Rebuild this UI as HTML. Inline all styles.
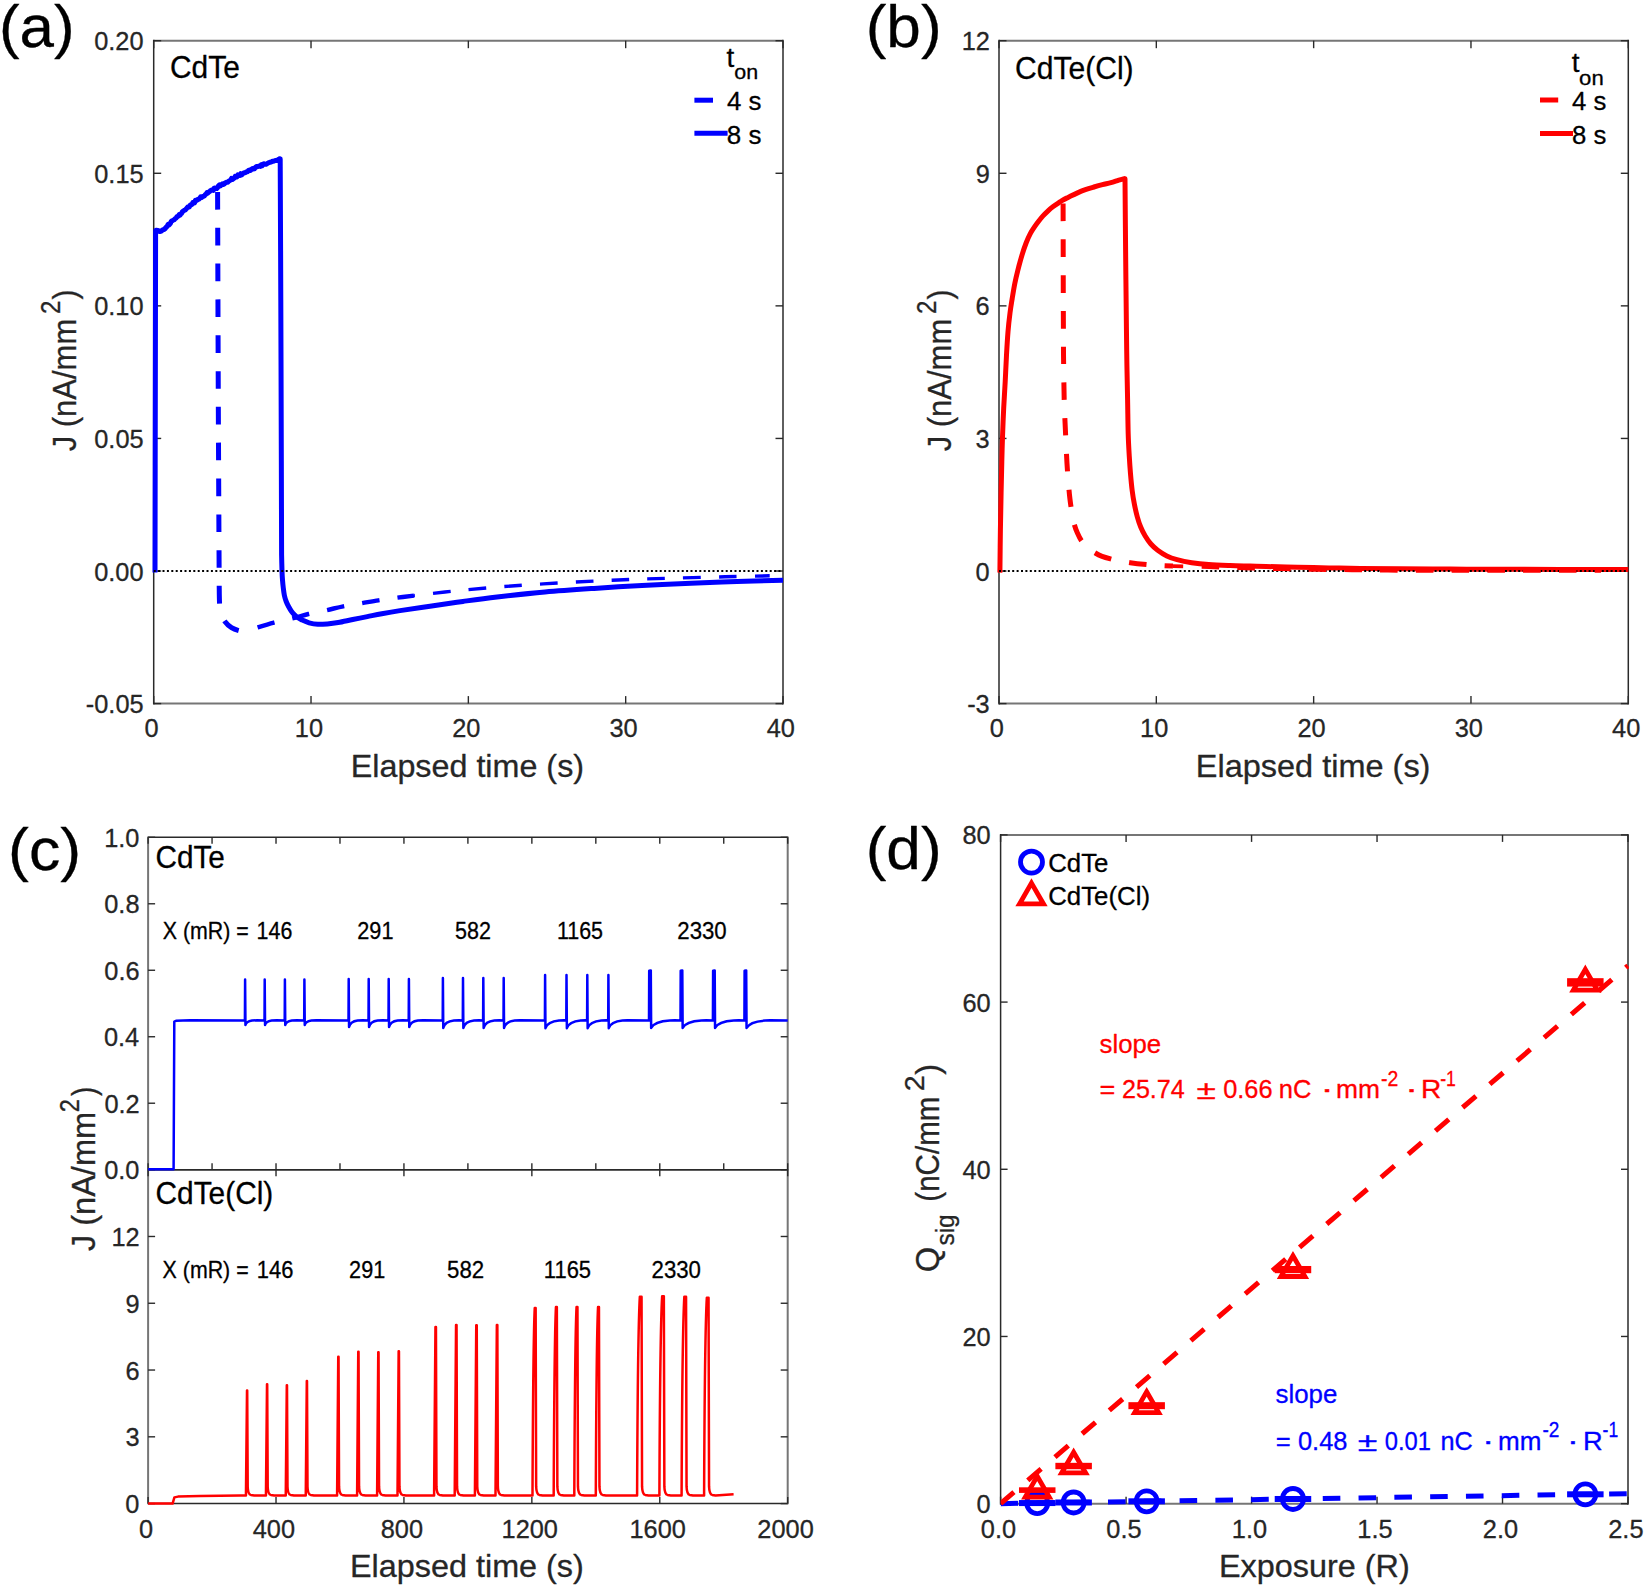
<!DOCTYPE html>
<html lang="en"><head><meta charset="utf-8"><title>Figure: X-ray response of CdTe and CdTe(Cl)</title>
<style>html,body{margin:0;padding:0;background:#fff}svg{display:block}text{font-family:'Liberation Sans', Arial, Helvetica, sans-serif;stroke-width:0.3px;stroke-linejoin:round}</style>
</head><body>
<svg width="1650" height="1588" viewBox="0 0 1650 1588">
<rect width="1650" height="1588" fill="#fff"/>
<g id="panel-a">
<line x1="153.7" y1="40.7" x2="783" y2="40.7" stroke="#767676" stroke-width="2"/>
<line x1="153.7" y1="703.6" x2="783" y2="703.6" stroke="#767676" stroke-width="2"/>
<line x1="153.7" y1="39.7" x2="153.7" y2="704.6" stroke="#2a2a2a" stroke-width="1.5"/>
<line x1="783" y1="39.7" x2="783" y2="704.6" stroke="#2a2a2a" stroke-width="1.5"/>
<line x1="311.02" y1="703.6" x2="311.02" y2="696.1" stroke="#2a2a2a" stroke-width="1.4"/>
<line x1="311.02" y1="40.7" x2="311.02" y2="48.2" stroke="#2a2a2a" stroke-width="1.4"/>
<line x1="468.35" y1="703.6" x2="468.35" y2="696.1" stroke="#2a2a2a" stroke-width="1.4"/>
<line x1="468.35" y1="40.7" x2="468.35" y2="48.2" stroke="#2a2a2a" stroke-width="1.4"/>
<line x1="625.67" y1="703.6" x2="625.67" y2="696.1" stroke="#2a2a2a" stroke-width="1.4"/>
<line x1="625.67" y1="40.7" x2="625.67" y2="48.2" stroke="#2a2a2a" stroke-width="1.4"/>
<line x1="153.7" y1="571.02" x2="161.2" y2="571.02" stroke="#2a2a2a" stroke-width="1.4"/>
<line x1="783" y1="571.02" x2="775.5" y2="571.02" stroke="#2a2a2a" stroke-width="1.4"/>
<line x1="153.7" y1="438.44" x2="161.2" y2="438.44" stroke="#2a2a2a" stroke-width="1.4"/>
<line x1="783" y1="438.44" x2="775.5" y2="438.44" stroke="#2a2a2a" stroke-width="1.4"/>
<line x1="153.7" y1="305.86" x2="161.2" y2="305.86" stroke="#2a2a2a" stroke-width="1.4"/>
<line x1="783" y1="305.86" x2="775.5" y2="305.86" stroke="#2a2a2a" stroke-width="1.4"/>
<line x1="153.7" y1="173.28" x2="161.2" y2="173.28" stroke="#2a2a2a" stroke-width="1.4"/>
<line x1="783" y1="173.28" x2="775.5" y2="173.28" stroke="#2a2a2a" stroke-width="1.4"/>
<line x1="153.7" y1="703.6" x2="153.7" y2="696.1" stroke="#2a2a2a" stroke-width="1.4"/>
<line x1="153.7" y1="40.7" x2="153.7" y2="48.2" stroke="#2a2a2a" stroke-width="1.4"/>
<line x1="783" y1="703.6" x2="783" y2="696.1" stroke="#2a2a2a" stroke-width="1.4"/>
<line x1="783" y1="40.7" x2="783" y2="48.2" stroke="#2a2a2a" stroke-width="1.4"/>
<line x1="153.7" y1="703.6" x2="161.2" y2="703.6" stroke="#2a2a2a" stroke-width="1.4"/>
<line x1="783" y1="703.6" x2="775.5" y2="703.6" stroke="#2a2a2a" stroke-width="1.4"/>
<line x1="153.7" y1="40.7" x2="161.2" y2="40.7" stroke="#2a2a2a" stroke-width="1.4"/>
<line x1="783" y1="40.7" x2="775.5" y2="40.7" stroke="#2a2a2a" stroke-width="1.4"/>
<path d="M155 572.6 C155.05 543.83 155.2 456.93 155.3 400 C155.4 343.07 155.55 259.17 155.6 231 L155.9 230.2 L156.55 230.24 L157.6 230.4 L158.56 230.66 L159.68 231.57 L160.8 231.28 L161.56 230.92 L162.28 230.04 L163.07 229.72 L164 229.61 L164.59 228.73 L165.19 228.54 L165.83 227.54 L166.51 227 L167.27 226.19 L168.13 224.38 L169.1 224.87 L169.73 224.09 L170.41 223.45 L171.13 221.56 L171.89 220.81 L172.68 220.54 L173.49 220 L174.32 219.64 L175.16 218.66 L176.01 218.18 L176.85 216.76 L177.68 216.51 L178.5 215.82 L179.25 214.56 L180.01 215.19 L180.78 213.86 L181.55 213.53 L182.33 211.84 L183.1 211.09 L183.88 210.63 L184.66 210.08 L185.44 209.82 L186.21 208.95 L186.98 207.91 L187.75 207 L188.5 206.61 L189.38 206.85 L190.25 205.04 L191.12 204.93 L191.97 204.36 L192.83 202.64 L193.68 202.83 L194.54 202.88 L195.39 200.41 L196.26 200.7 L197.12 200.18 L198 199.15 L198.89 199.23 L199.78 198.28 L200.68 196.87 L201.58 197.49 L202.48 196.77 L203.39 196.3 L204.3 195.95 L205.2 194.75 L206.11 194.02 L207.01 192.65 L207.9 193.14 L208.79 191.91 L209.68 191.47 L210.57 190.51 L211.45 190.17 L212.34 189.92 L213.22 190.44 L214.1 188.13 L214.98 187.96 L215.86 188.41 L216.73 188.59 L217.6 187.62 L218.55 185.7 L219.49 184.81 L220.42 185.84 L221.35 184.69 L222.28 183.93 L223.21 184.53 L224.15 184.05 L225.09 182.98 L226.04 182.48 L227 182.04 L227.89 182.18 L228.79 181.14 L229.7 180.59 L230.61 180.1 L231.53 178.44 L232.45 179.51 L233.38 178.83 L234.29 178.11 L235.2 176.25 L236.11 176.52 L237 176.86 L237.97 174.9 L238.93 175.31 L239.87 175.49 L240.82 173.74 L241.76 174.88 L242.7 173.84 L243.64 172.99 L244.58 172.79 L245.54 172.52 L246.5 171.77 L247.48 171.87 L248.46 170.41 L249.45 170.08 L250.45 170.42 L251.44 169.4 L252.44 168.44 L253.44 169 L254.43 168.85 L255.42 167.37 L256.4 166.44 L257.37 166.73 L258.34 166.34 L259.3 165.88 L260.25 166.46 L261.21 164.77 L262.16 165.68 L263.11 163.94 L264.07 163.86 L265.03 164.3 L266 164.22 L267 163.71 L268.05 163.06 L269.12 162.57 L270.2 162.2 L271.28 162.07 L272.32 161.3 L273.31 161.2 L274.23 161.05 L275.07 160.45 L275.8 160.62 L277.22 160.03 L278.21 160.49 L278.9 159.34 L279.4 158.76 L280.2 159 C280.3 182.5 280.62 251.5 280.8 300 C280.98 348.5 281.17 407.5 281.3 450 C281.43 492.5 281.55 537.5 281.6 555 L281.6 555 C281.67 557.67 281.85 566.83 282 571 C282.15 575.17 282.28 577.17 282.5 580 C282.72 582.83 282.98 585.42 283.3 588 C283.62 590.58 283.92 593.25 284.4 595.5 C284.88 597.75 285.48 599.62 286.2 601.5 C286.92 603.38 287.83 605.18 288.7 606.8 C289.57 608.42 290.43 609.87 291.4 611.2 C292.37 612.53 293.4 613.72 294.5 614.8 C295.6 615.88 296.78 616.85 298 617.7 C299.22 618.55 299.95 619.05 301.8 619.9 C303.65 620.75 306.43 622.07 309.1 622.8 C311.77 623.53 314.77 624.12 317.8 624.3 C320.83 624.48 323.9 624.2 327.3 623.9 C330.7 623.6 333.97 623.23 338.2 622.5 C342.43 621.77 347.85 620.48 352.7 619.5 C357.55 618.52 362.45 617.57 367.3 616.6 C372.15 615.63 376.35 614.7 381.8 613.7 C387.25 612.7 391.97 611.85 400 610.6 C408.03 609.35 419.5 607.73 430 606.2 C440.5 604.67 451.83 602.93 463 601.4 C474.17 599.87 483.33 598.57 497 597 C510.67 595.43 528.83 593.43 545 592 C561.17 590.57 577.83 589.48 594 588.4 C610.17 587.32 625.83 586.37 642 585.5 C658.17 584.63 675.17 583.87 691 583.2 C706.83 582.53 721.67 582 737 581.5 C752.33 581 775.33 580.42 783 580.2" fill="none" stroke="#0000ff" stroke-width="5" stroke-linejoin="round"/>
<line x1="153.7" y1="571.02" x2="783" y2="571.02" stroke="#000" stroke-width="1.8" stroke-dasharray="2 2.4"/>
<path d="M217.6 192.1 C217.72 226.75 218.03 334.52 218.3 400 C218.57 465.48 219.05 554.17 219.2 585 L219.2 585 C219.27 588.17 219.27 599.25 219.6 604 C219.93 608.75 220.32 610.58 221.2 613.5 C222.08 616.42 223.18 619.13 224.9 621.5 C226.62 623.87 229.15 626.17 231.5 627.7 C233.85 629.23 236.83 630.12 239 630.7 C241.17 631.28 242.67 631.32 244.5 631.2 C246.33 631.08 249.08 630.2 250 630" fill="none" stroke="#0000ff" stroke-width="5" stroke-dasharray="17.6 18.2" stroke-linejoin="round"/>
<path d="M250 630 C251.15 629.6 252.92 628.83 256.9 627.6 C260.88 626.37 267.98 624.15 273.9 622.6 C279.82 621.05 286.65 619.73 292.4 618.3 C298.15 616.87 302.72 615.35 308.4 614 C314.08 612.65 320.68 611.48 326.5 610.2 C332.32 608.92 337.6 607.43 343.3 606.3 C349 605.17 354.83 604.4 360.7 603.4 C366.57 602.4 372.55 601.23 378.5 600.3 C384.45 599.37 390.48 598.58 396.4 597.8 C402.32 597.02 411.07 595.97 414 595.6" fill="none" stroke="#0000ff" stroke-width="4.4" stroke-dasharray="17.6 18.2" stroke-linejoin="round" stroke-dashoffset="27.73"/>
<path d="M414 595.6 C421.67 594.73 443.75 592 460 590.4 C476.25 588.8 494 587.3 511.5 586 C529 584.7 547.25 583.6 565 582.6 C582.75 581.6 600.5 580.73 618 580 C635.5 579.27 652.17 578.73 670 578.2 C687.83 577.67 708.38 577.2 725 576.8 C741.62 576.4 762.25 575.97 769.7 575.8" fill="none" stroke="#0000ff" stroke-width="3.4" stroke-dasharray="17.6 18.2" stroke-linejoin="round" stroke-dashoffset="16.58"/>
<text x="144.54" y="736.6" font-size="26.3" fill="#262626" stroke="#262626" textLength="14.12" lengthAdjust="spacingAndGlyphs">0</text>
<text x="294.81" y="736.6" font-size="26.3" fill="#262626" stroke="#262626" textLength="28.23" lengthAdjust="spacingAndGlyphs">10</text>
<text x="452.13" y="736.6" font-size="26.3" fill="#262626" stroke="#262626" textLength="28.23" lengthAdjust="spacingAndGlyphs">20</text>
<text x="609.46" y="736.6" font-size="26.3" fill="#262626" stroke="#262626" textLength="28.23" lengthAdjust="spacingAndGlyphs">30</text>
<text x="766.78" y="736.6" font-size="26.3" fill="#262626" stroke="#262626" textLength="28.23" lengthAdjust="spacingAndGlyphs">40</text>
<text x="85.81" y="713.1" font-size="26.3" fill="#262626" stroke="#262626" textLength="57.85" lengthAdjust="spacingAndGlyphs">-0.05</text>
<text x="94.19" y="580.52" font-size="26.3" fill="#262626" stroke="#262626" textLength="49.4" lengthAdjust="spacingAndGlyphs">0.00</text>
<text x="94.25" y="447.94" font-size="26.3" fill="#262626" stroke="#262626" textLength="49.4" lengthAdjust="spacingAndGlyphs">0.05</text>
<text x="94.19" y="315.36" font-size="26.3" fill="#262626" stroke="#262626" textLength="49.4" lengthAdjust="spacingAndGlyphs">0.10</text>
<text x="94.25" y="182.78" font-size="26.3" fill="#262626" stroke="#262626" textLength="49.4" lengthAdjust="spacingAndGlyphs">0.15</text>
<text x="94.19" y="50.2" font-size="26.3" fill="#262626" stroke="#262626" textLength="49.4" lengthAdjust="spacingAndGlyphs">0.20</text>
<text x="350.72" y="777.1" font-size="32" fill="#262626" stroke="#262626" textLength="233.31" lengthAdjust="spacingAndGlyphs">Elapsed time (s)</text>
<text transform="translate(75.6 450.9) rotate(-90)" x="-0.46" y="0" font-size="33.5" fill="#262626" stroke="#262626" textLength="132.59" lengthAdjust="spacingAndGlyphs">J (nA/mm</text>
<text transform="translate(59.7 312.8) rotate(-90)" x="-1.2" y="0" font-size="27.4" fill="#262626" stroke="#262626" textLength="13.37" lengthAdjust="spacingAndGlyphs">2</text>
<text transform="translate(75.6 299.4) rotate(-90)" x="-0.15" y="0" font-size="33.5" fill="#262626" stroke="#262626" textLength="9.96" lengthAdjust="spacingAndGlyphs">)</text>
<text x="-1.01" y="46.7" font-size="60" fill="#000" stroke="#000" textLength="75.6" lengthAdjust="spacingAndGlyphs">(a)</text>
<text x="170" y="78.3" font-size="32" fill="#000" stroke="#000" textLength="69.83" lengthAdjust="spacingAndGlyphs">CdTe</text>
<text x="726.58" y="66.7" font-size="27" fill="#000" stroke="#000" textLength="7.77" lengthAdjust="spacingAndGlyphs">t</text>
<text x="734.24" y="78.6" font-size="20.5" fill="#000" stroke="#000" textLength="23.85" lengthAdjust="spacingAndGlyphs">on</text>
<line x1="694.4" y1="100.2" x2="713" y2="100.2" stroke="#0000ff" stroke-width="5"/>
<text x="726.92" y="110" font-size="26" fill="#000" stroke="#000" textLength="34.46" lengthAdjust="spacingAndGlyphs">4 s</text>
<line x1="694.4" y1="133.3" x2="727.6" y2="133.3" stroke="#0000ff" stroke-width="5"/>
<text x="726.8" y="143.5" font-size="26" fill="#000" stroke="#000" textLength="34.58" lengthAdjust="spacingAndGlyphs">8 s</text>
</g>
<g id="panel-b">
<line x1="999" y1="40.7" x2="1628.3" y2="40.7" stroke="#767676" stroke-width="2"/>
<line x1="999" y1="703.6" x2="1628.3" y2="703.6" stroke="#767676" stroke-width="2"/>
<line x1="999" y1="39.7" x2="999" y2="704.6" stroke="#2a2a2a" stroke-width="1.5"/>
<line x1="1628.3" y1="39.7" x2="1628.3" y2="704.6" stroke="#2a2a2a" stroke-width="1.5"/>
<line x1="999" y1="703.6" x2="999" y2="696.1" stroke="#2a2a2a" stroke-width="1.4"/>
<line x1="999" y1="40.7" x2="999" y2="48.2" stroke="#2a2a2a" stroke-width="1.4"/>
<line x1="1156.33" y1="703.6" x2="1156.33" y2="696.1" stroke="#2a2a2a" stroke-width="1.4"/>
<line x1="1156.33" y1="40.7" x2="1156.33" y2="48.2" stroke="#2a2a2a" stroke-width="1.4"/>
<line x1="1313.65" y1="703.6" x2="1313.65" y2="696.1" stroke="#2a2a2a" stroke-width="1.4"/>
<line x1="1313.65" y1="40.7" x2="1313.65" y2="48.2" stroke="#2a2a2a" stroke-width="1.4"/>
<line x1="1470.97" y1="703.6" x2="1470.97" y2="696.1" stroke="#2a2a2a" stroke-width="1.4"/>
<line x1="1470.97" y1="40.7" x2="1470.97" y2="48.2" stroke="#2a2a2a" stroke-width="1.4"/>
<line x1="1628.3" y1="703.6" x2="1628.3" y2="696.1" stroke="#2a2a2a" stroke-width="1.4"/>
<line x1="1628.3" y1="40.7" x2="1628.3" y2="48.2" stroke="#2a2a2a" stroke-width="1.4"/>
<line x1="999" y1="703.6" x2="1006.5" y2="703.6" stroke="#2a2a2a" stroke-width="1.4"/>
<line x1="1628.3" y1="703.6" x2="1620.8" y2="703.6" stroke="#2a2a2a" stroke-width="1.4"/>
<line x1="999" y1="571.02" x2="1006.5" y2="571.02" stroke="#2a2a2a" stroke-width="1.4"/>
<line x1="1628.3" y1="571.02" x2="1620.8" y2="571.02" stroke="#2a2a2a" stroke-width="1.4"/>
<line x1="999" y1="438.44" x2="1006.5" y2="438.44" stroke="#2a2a2a" stroke-width="1.4"/>
<line x1="1628.3" y1="438.44" x2="1620.8" y2="438.44" stroke="#2a2a2a" stroke-width="1.4"/>
<line x1="999" y1="305.86" x2="1006.5" y2="305.86" stroke="#2a2a2a" stroke-width="1.4"/>
<line x1="1628.3" y1="305.86" x2="1620.8" y2="305.86" stroke="#2a2a2a" stroke-width="1.4"/>
<line x1="999" y1="173.28" x2="1006.5" y2="173.28" stroke="#2a2a2a" stroke-width="1.4"/>
<line x1="1628.3" y1="173.28" x2="1620.8" y2="173.28" stroke="#2a2a2a" stroke-width="1.4"/>
<line x1="999" y1="40.7" x2="1006.5" y2="40.7" stroke="#2a2a2a" stroke-width="1.4"/>
<line x1="1628.3" y1="40.7" x2="1620.8" y2="40.7" stroke="#2a2a2a" stroke-width="1.4"/>
<path d="M999.9 572.6 C999.98 565.5 1000.2 543.37 1000.4 530 C1000.6 516.63 1000.87 503.73 1001.1 492.4 C1001.33 481.07 1001.57 471.23 1001.8 462 C1002.03 452.77 1002.18 446 1002.5 437 C1002.82 428 1003.25 417.23 1003.7 408 C1004.15 398.77 1004.73 390.43 1005.2 381.6 C1005.67 372.77 1006.03 363.32 1006.5 355 C1006.97 346.68 1007.42 338.7 1008 331.7 C1008.58 324.7 1009.3 318.53 1010 313 C1010.7 307.47 1011.4 303.42 1012.2 298.5 C1013 293.58 1013.88 288.12 1014.8 283.5 C1015.72 278.88 1016.53 275.43 1017.7 270.8 C1018.87 266.17 1020.4 260.33 1021.8 255.7 C1023.2 251.07 1024.68 246.67 1026.1 243 C1027.52 239.33 1028.9 236.38 1030.3 233.7 C1031.7 231.02 1033.08 229.02 1034.5 226.9 C1035.92 224.78 1037.38 222.83 1038.8 221 C1040.22 219.17 1041.45 217.6 1043 215.9 C1044.55 214.2 1046.4 212.37 1048.1 210.8 C1049.8 209.23 1051.22 207.98 1053.2 206.5 C1055.18 205.02 1058.3 203.03 1060 201.9 C1061.7 200.77 1061.98 200.48 1063.4 199.7 C1064.82 198.92 1066.23 198.3 1068.5 197.2 C1070.77 196.1 1074.18 194.35 1077 193.1 C1079.82 191.85 1082.58 190.72 1085.4 189.7 C1088.22 188.68 1091.07 187.85 1093.9 187 C1096.73 186.15 1099.57 185.33 1102.4 184.6 C1105.23 183.87 1108.17 183.35 1110.9 182.6 C1113.63 181.85 1116.53 180.77 1118.8 180.1 C1121.07 179.43 1123.55 178.85 1124.5 178.6 L1125 178.7 C1125.1 190.58 1125.37 225.42 1125.6 250 C1125.83 274.58 1126.27 313.5 1126.4 326.2 L1126.4 326.2 C1126.48 332.67 1126.7 352.7 1126.9 365 C1127.1 377.3 1127.38 388.5 1127.6 400 C1127.82 411.5 1127.92 424.55 1128.2 434 C1128.48 443.45 1128.92 450.08 1129.3 456.7 C1129.68 463.32 1130.02 468.03 1130.5 473.7 C1130.98 479.37 1131.55 485.6 1132.2 490.7 C1132.85 495.8 1133.55 499.95 1134.4 504.3 C1135.25 508.65 1136.25 513.02 1137.3 516.8 C1138.35 520.58 1139.38 523.8 1140.7 527 C1142.02 530.2 1143.5 533.17 1145.2 536 C1146.9 538.83 1148.82 541.63 1150.9 544 C1152.98 546.37 1155.05 548.22 1157.7 550.2 C1160.35 552.18 1163.58 554.33 1166.8 555.9 C1170.02 557.47 1172.85 558.47 1177 559.6 C1181.15 560.73 1186.42 561.87 1191.7 562.7 C1196.98 563.53 1202.32 564.12 1208.7 564.6 C1215.08 565.08 1223.12 565.35 1230 565.6 C1236.88 565.85 1244 565.95 1250 566.1 C1256 566.25 1258.07 566.3 1266 566.5 C1273.93 566.7 1287.1 567.07 1297.6 567.3 C1308.1 567.53 1318.5 567.72 1329 567.9 C1339.5 568.08 1348.77 568.25 1360.6 568.4 C1372.43 568.55 1385.1 568.68 1400 568.8 C1414.9 568.92 1433.33 569.02 1450 569.1 C1466.67 569.18 1481.67 569.25 1500 569.3 C1518.33 569.35 1538.62 569.37 1560 569.4 C1581.38 569.43 1616.92 569.48 1628.3 569.5" fill="none" stroke="#ff0000" stroke-width="5" stroke-linejoin="round"/>
<line x1="999" y1="571.02" x2="1628.3" y2="571.02" stroke="#000" stroke-width="1.8" stroke-dasharray="2 2.4"/>
<path d="M1063.1 203.6 C1063.13 219.67 1063.23 274.95 1063.3 300 C1063.37 325.05 1063.47 344.92 1063.5 353.9 L1063.5 353.9 C1063.62 361.58 1063.88 387.32 1064.2 400 C1064.52 412.68 1064.93 419.42 1065.4 430 C1065.87 440.58 1066.47 454.33 1067 463.5 C1067.53 472.67 1068.12 479.15 1068.6 485 C1069.08 490.85 1069.37 494.1 1069.9 498.6 C1070.43 503.1 1071.08 507.77 1071.8 512 C1072.52 516.23 1073.28 520.53 1074.2 524 C1075.12 527.47 1076.08 530 1077.3 532.8 C1078.52 535.6 1079.8 538.33 1081.5 540.8 C1083.2 543.27 1085.2 545.57 1087.5 547.6 C1089.8 549.63 1092.87 551.55 1095.3 553 C1097.73 554.45 1099.57 555.32 1102.1 556.3 C1104.63 557.28 1107.68 558.13 1110.5 558.9 C1113.32 559.67 1116 560.3 1119 560.9 C1122 561.5 1125.45 562.03 1128.5 562.5 C1131.55 562.97 1132.88 563.25 1137.3 563.7 C1141.72 564.15 1149.05 564.8 1155 565.2 C1160.95 565.6 1170 565.95 1173 566.1" fill="none" stroke="#ff0000" stroke-width="5" stroke-dasharray="17.6 18.14" stroke-linejoin="round"/>
<path d="M1173 566.1 C1179 566.28 1197 566.82 1209 567.2 C1221 567.58 1233 568.07 1245 568.4 C1257 568.73 1269.17 568.95 1281 569.2 C1292.83 569.45 1304.17 569.72 1316 569.9 C1327.83 570.08 1340 570.17 1352 570.3 C1364 570.43 1371.67 570.62 1388 570.7 C1404.33 570.78 1428 570.77 1450 570.8 C1472 570.83 1494.83 570.88 1520 570.9 C1545.17 570.92 1587.5 570.9 1601 570.9" fill="none" stroke="#ff0000" stroke-width="3.8" stroke-dasharray="17.6 18.14" stroke-dashoffset="7.17" stroke-linejoin="round"/>
<text x="989.84" y="736.6" font-size="26.3" fill="#262626" stroke="#262626" textLength="14.12" lengthAdjust="spacingAndGlyphs">0</text>
<text x="1140.11" y="736.6" font-size="26.3" fill="#262626" stroke="#262626" textLength="28.23" lengthAdjust="spacingAndGlyphs">10</text>
<text x="1297.43" y="736.6" font-size="26.3" fill="#262626" stroke="#262626" textLength="28.23" lengthAdjust="spacingAndGlyphs">20</text>
<text x="1454.76" y="736.6" font-size="26.3" fill="#262626" stroke="#262626" textLength="28.23" lengthAdjust="spacingAndGlyphs">30</text>
<text x="1612.08" y="736.6" font-size="26.3" fill="#262626" stroke="#262626" textLength="28.23" lengthAdjust="spacingAndGlyphs">40</text>
<text x="967.15" y="713.1" font-size="26.3" fill="#262626" stroke="#262626" textLength="22.57" lengthAdjust="spacingAndGlyphs">-3</text>
<text x="975.47" y="580.52" font-size="26.3" fill="#262626" stroke="#262626" textLength="14.12" lengthAdjust="spacingAndGlyphs">0</text>
<text x="975.59" y="447.94" font-size="26.3" fill="#262626" stroke="#262626" textLength="14.12" lengthAdjust="spacingAndGlyphs">3</text>
<text x="975.59" y="315.36" font-size="26.3" fill="#262626" stroke="#262626" textLength="14.12" lengthAdjust="spacingAndGlyphs">6</text>
<text x="975.66" y="182.78" font-size="26.3" fill="#262626" stroke="#262626" textLength="14.12" lengthAdjust="spacingAndGlyphs">9</text>
<text x="961.63" y="50.2" font-size="26.3" fill="#262626" stroke="#262626" textLength="28.23" lengthAdjust="spacingAndGlyphs">12</text>
<text x="1195.8" y="777.2" font-size="32" fill="#262626" stroke="#262626" textLength="234.64" lengthAdjust="spacingAndGlyphs">Elapsed time (s)</text>
<text transform="translate(951.4 450.9) rotate(-90)" x="-0.46" y="0" font-size="33.5" fill="#262626" stroke="#262626" textLength="132.59" lengthAdjust="spacingAndGlyphs">J (nA/mm</text>
<text transform="translate(935.5 312.8) rotate(-90)" x="-1.2" y="0" font-size="27.4" fill="#262626" stroke="#262626" textLength="13.37" lengthAdjust="spacingAndGlyphs">2</text>
<text transform="translate(951.4 299.4) rotate(-90)" x="-0.15" y="0" font-size="33.5" fill="#262626" stroke="#262626" textLength="9.96" lengthAdjust="spacingAndGlyphs">)</text>
<text x="865.67" y="46.7" font-size="60" fill="#000" stroke="#000" textLength="75.94" lengthAdjust="spacingAndGlyphs">(b)</text>
<text x="1015" y="78.6" font-size="32" fill="#000" stroke="#000" textLength="118.61" lengthAdjust="spacingAndGlyphs">CdTe(Cl)</text>
<text x="1571.88" y="72.3" font-size="27" fill="#000" stroke="#000" textLength="7.77" lengthAdjust="spacingAndGlyphs">t</text>
<text x="1579.11" y="84.5" font-size="20.5" fill="#000" stroke="#000" textLength="24.62" lengthAdjust="spacingAndGlyphs">on</text>
<line x1="1540" y1="100" x2="1558.2" y2="100" stroke="#ff0000" stroke-width="5"/>
<text x="1572.12" y="110" font-size="26" fill="#000" stroke="#000" textLength="34.25" lengthAdjust="spacingAndGlyphs">4 s</text>
<line x1="1540" y1="133.6" x2="1573" y2="133.6" stroke="#ff0000" stroke-width="5"/>
<text x="1572.11" y="143.6" font-size="26" fill="#000" stroke="#000" textLength="34.27" lengthAdjust="spacingAndGlyphs">8 s</text>
</g>
<g id="panel-c">
<line x1="148.1" y1="837.3" x2="787.7" y2="837.3" stroke="#2a2a2a" stroke-width="1.5"/>
<line x1="148.1" y1="1169.7" x2="787.7" y2="1169.7" stroke="#2a2a2a" stroke-width="1.5"/>
<line x1="148.1" y1="836.55" x2="148.1" y2="1170.45" stroke="#767676" stroke-width="2"/>
<line x1="787.7" y1="836.55" x2="787.7" y2="1170.45" stroke="#767676" stroke-width="2"/>
<line x1="148.1" y1="1169.7" x2="787.7" y2="1169.7" stroke="#2a2a2a" stroke-width="1.5"/>
<line x1="148.1" y1="1503.6" x2="787.7" y2="1503.6" stroke="#2a2a2a" stroke-width="1.5"/>
<line x1="148.1" y1="1168.95" x2="148.1" y2="1504.35" stroke="#767676" stroke-width="2"/>
<line x1="787.7" y1="1168.95" x2="787.7" y2="1504.35" stroke="#767676" stroke-width="2"/>
<line x1="212.06" y1="1169.7" x2="212.06" y2="1163.2" stroke="#2a2a2a" stroke-width="1.4"/>
<line x1="212.06" y1="837.3" x2="212.06" y2="843.8" stroke="#2a2a2a" stroke-width="1.4"/>
<line x1="276.02" y1="1169.7" x2="276.02" y2="1163.2" stroke="#2a2a2a" stroke-width="1.4"/>
<line x1="276.02" y1="837.3" x2="276.02" y2="843.8" stroke="#2a2a2a" stroke-width="1.4"/>
<line x1="339.98" y1="1169.7" x2="339.98" y2="1163.2" stroke="#2a2a2a" stroke-width="1.4"/>
<line x1="339.98" y1="837.3" x2="339.98" y2="843.8" stroke="#2a2a2a" stroke-width="1.4"/>
<line x1="403.94" y1="1169.7" x2="403.94" y2="1163.2" stroke="#2a2a2a" stroke-width="1.4"/>
<line x1="403.94" y1="837.3" x2="403.94" y2="843.8" stroke="#2a2a2a" stroke-width="1.4"/>
<line x1="467.9" y1="1169.7" x2="467.9" y2="1163.2" stroke="#2a2a2a" stroke-width="1.4"/>
<line x1="467.9" y1="837.3" x2="467.9" y2="843.8" stroke="#2a2a2a" stroke-width="1.4"/>
<line x1="531.86" y1="1169.7" x2="531.86" y2="1163.2" stroke="#2a2a2a" stroke-width="1.4"/>
<line x1="531.86" y1="837.3" x2="531.86" y2="843.8" stroke="#2a2a2a" stroke-width="1.4"/>
<line x1="595.82" y1="1169.7" x2="595.82" y2="1163.2" stroke="#2a2a2a" stroke-width="1.4"/>
<line x1="595.82" y1="837.3" x2="595.82" y2="843.8" stroke="#2a2a2a" stroke-width="1.4"/>
<line x1="659.78" y1="1169.7" x2="659.78" y2="1163.2" stroke="#2a2a2a" stroke-width="1.4"/>
<line x1="659.78" y1="837.3" x2="659.78" y2="843.8" stroke="#2a2a2a" stroke-width="1.4"/>
<line x1="723.74" y1="1169.7" x2="723.74" y2="1163.2" stroke="#2a2a2a" stroke-width="1.4"/>
<line x1="723.74" y1="837.3" x2="723.74" y2="843.8" stroke="#2a2a2a" stroke-width="1.4"/>
<line x1="148.1" y1="1103.22" x2="155.1" y2="1103.22" stroke="#2a2a2a" stroke-width="1.4"/>
<line x1="787.7" y1="1103.22" x2="780.7" y2="1103.22" stroke="#2a2a2a" stroke-width="1.4"/>
<line x1="148.1" y1="1036.74" x2="155.1" y2="1036.74" stroke="#2a2a2a" stroke-width="1.4"/>
<line x1="787.7" y1="1036.74" x2="780.7" y2="1036.74" stroke="#2a2a2a" stroke-width="1.4"/>
<line x1="148.1" y1="970.26" x2="155.1" y2="970.26" stroke="#2a2a2a" stroke-width="1.4"/>
<line x1="787.7" y1="970.26" x2="780.7" y2="970.26" stroke="#2a2a2a" stroke-width="1.4"/>
<line x1="148.1" y1="903.78" x2="155.1" y2="903.78" stroke="#2a2a2a" stroke-width="1.4"/>
<line x1="787.7" y1="903.78" x2="780.7" y2="903.78" stroke="#2a2a2a" stroke-width="1.4"/>
<line x1="276.02" y1="1503.6" x2="276.02" y2="1497.1" stroke="#2a2a2a" stroke-width="1.4"/>
<line x1="276.02" y1="1169.7" x2="276.02" y2="1176.2" stroke="#2a2a2a" stroke-width="1.4"/>
<line x1="403.94" y1="1503.6" x2="403.94" y2="1497.1" stroke="#2a2a2a" stroke-width="1.4"/>
<line x1="403.94" y1="1169.7" x2="403.94" y2="1176.2" stroke="#2a2a2a" stroke-width="1.4"/>
<line x1="531.86" y1="1503.6" x2="531.86" y2="1497.1" stroke="#2a2a2a" stroke-width="1.4"/>
<line x1="531.86" y1="1169.7" x2="531.86" y2="1176.2" stroke="#2a2a2a" stroke-width="1.4"/>
<line x1="659.78" y1="1503.6" x2="659.78" y2="1497.1" stroke="#2a2a2a" stroke-width="1.4"/>
<line x1="659.78" y1="1169.7" x2="659.78" y2="1176.2" stroke="#2a2a2a" stroke-width="1.4"/>
<line x1="148.1" y1="1436.82" x2="155.1" y2="1436.82" stroke="#2a2a2a" stroke-width="1.4"/>
<line x1="787.7" y1="1436.82" x2="780.7" y2="1436.82" stroke="#2a2a2a" stroke-width="1.4"/>
<line x1="148.1" y1="1370.04" x2="155.1" y2="1370.04" stroke="#2a2a2a" stroke-width="1.4"/>
<line x1="787.7" y1="1370.04" x2="780.7" y2="1370.04" stroke="#2a2a2a" stroke-width="1.4"/>
<line x1="148.1" y1="1303.26" x2="155.1" y2="1303.26" stroke="#2a2a2a" stroke-width="1.4"/>
<line x1="787.7" y1="1303.26" x2="780.7" y2="1303.26" stroke="#2a2a2a" stroke-width="1.4"/>
<line x1="148.1" y1="1236.48" x2="155.1" y2="1236.48" stroke="#2a2a2a" stroke-width="1.4"/>
<line x1="787.7" y1="1236.48" x2="780.7" y2="1236.48" stroke="#2a2a2a" stroke-width="1.4"/>
<line x1="148.1" y1="1169.7" x2="148.1" y2="1163.2" stroke="#2a2a2a" stroke-width="1.4"/>
<line x1="148.1" y1="837.3" x2="148.1" y2="843.8" stroke="#2a2a2a" stroke-width="1.4"/>
<line x1="787.7" y1="1169.7" x2="787.7" y2="1163.2" stroke="#2a2a2a" stroke-width="1.4"/>
<line x1="787.7" y1="837.3" x2="787.7" y2="843.8" stroke="#2a2a2a" stroke-width="1.4"/>
<line x1="148.1" y1="1503.6" x2="148.1" y2="1497.1" stroke="#2a2a2a" stroke-width="1.4"/>
<line x1="148.1" y1="1169.7" x2="148.1" y2="1176.2" stroke="#2a2a2a" stroke-width="1.4"/>
<line x1="787.7" y1="1503.6" x2="787.7" y2="1497.1" stroke="#2a2a2a" stroke-width="1.4"/>
<line x1="787.7" y1="1169.7" x2="787.7" y2="1176.2" stroke="#2a2a2a" stroke-width="1.4"/>
<line x1="148.1" y1="1169.7" x2="155.1" y2="1169.7" stroke="#2a2a2a" stroke-width="1.4"/>
<line x1="787.7" y1="1169.7" x2="780.7" y2="1169.7" stroke="#2a2a2a" stroke-width="1.4"/>
<line x1="148.1" y1="837.3" x2="155.1" y2="837.3" stroke="#2a2a2a" stroke-width="1.4"/>
<line x1="787.7" y1="837.3" x2="780.7" y2="837.3" stroke="#2a2a2a" stroke-width="1.4"/>
<line x1="148.1" y1="1503.6" x2="155.1" y2="1503.6" stroke="#2a2a2a" stroke-width="1.4"/>
<line x1="787.7" y1="1503.6" x2="780.7" y2="1503.6" stroke="#2a2a2a" stroke-width="1.4"/>
<path d="M148.1 1169.2 L173.6 1169.2 L174.3 1021.6 L176 1020.8 L190 1020.3 L244.9 1020.6 L245.1 979.5 L245.45 1025 C245.94 1022.65 247.55 1021.3 252.1 1020.55 L257.1 1020.3 L264.5 1020.6 L264.7 979.5 L265.05 1025 C265.54 1022.65 267.15 1021.3 271.7 1020.55 L276.7 1020.3 L284.7 1020.6 L284.9 979.5 L285.25 1025 C285.74 1022.65 287.35 1021.3 291.9 1020.55 L296.9 1020.3 L304.2 1020.6 L304.4 979.5 L304.75 1025 C305.24 1022.65 306.85 1021.3 311.4 1020.55 L316.4 1020.3 L348.5 1020.6 L348.7 979.1 L349.05 1027 C349.78 1023.65 351.85 1021.3 357.7 1020.55 L362.7 1020.3 L368.5 1020.6 L368.7 979.1 L369.05 1027 C369.78 1023.65 371.85 1021.3 377.7 1020.55 L382.7 1020.3 L388.5 1020.6 L388.7 979.1 L389.05 1027 C389.78 1023.65 391.85 1021.3 397.7 1020.55 L402.7 1020.3 L408.7 1020.6 L408.9 979.1 L409.25 1027 C409.98 1023.65 412.05 1021.3 417.9 1020.55 L422.9 1020.3 L442.7 1020.6 L442.9 977.9 L443.25 1028 C444.22 1024.15 446.75 1021.3 453.9 1020.55 L458.9 1020.3 L462.8 1020.6 L463 977.9 L463.35 1028 C464.32 1024.15 466.85 1021.3 474 1020.55 L479 1020.3 L483.1 1020.6 L483.3 977.9 L483.65 1028 C484.62 1024.15 487.15 1021.3 494.3 1020.55 L499.3 1020.3 L503.5 1020.6 L503.7 977.9 L504.05 1028 C505.02 1024.15 507.55 1021.3 514.7 1020.55 L519.7 1020.3 L544.9 1020.6 L545.1 975 L545.45 1028.2 C546.78 1024.25 550 1021.3 559.1 1020.55 L564.1 1020.3 L566.3 1020.6 L566.5 975 L566.85 1028.2 C568.18 1024.25 571.4 1021.3 580.5 1020.55 L585.5 1020.3 L587.1 1020.6 L587.3 975 L587.65 1028.2 C588.98 1024.25 592.2 1021.3 601.3 1020.55 L606.3 1020.3 L608.2 1020.6 L608.4 975 L608.75 1028.2 C610.08 1024.25 613.3 1021.3 622.4 1020.55 L627.4 1020.3 L649 1020.6 L649.2 970.8 L650.8 970.4 L651.15 1028 C653.08 1024.15 657.45 1021.3 669.8 1020.55 L674.8 1020.3 L680.5 1020.6 L680.7 970.8 L682.3 970.4 L682.65 1028 C684.58 1024.15 688.95 1021.3 701.3 1020.55 L706.3 1020.3 L712.9 1020.6 L713.1 970.8 L714.7 970.4 L715.05 1028 C716.98 1024.15 721.35 1021.3 733.7 1020.55 L738.7 1020.3 L744.4 1020.6 L744.6 970.8 L746.2 970.4 L746.55 1028 C748.48 1024.15 752.85 1021.3 765.2 1020.55 L770.2 1020.3 L787.7 1020.5" fill="none" stroke="#0000ff" stroke-width="2.5" stroke-linejoin="round"/>
<path d="M148.1 1503.6 L172.6 1503.6 L174.4 1497.4 L178 1496.6 L200 1496.0 L240 1495.4 L245.95 1495.4 C246.45 1430.3 246.61 1404.05 247 1390.4 L247.2 1390.4 L247.7 1486.4 C247.85 1492 248.5 1494.3 250.8 1494.9 L254.2 1495.4 L265.95 1495.4 C266.45 1426.46 266.62 1398.66 267 1384.2 L267.2 1384.2 L267.7 1486.4 C267.85 1492 268.5 1494.3 270.8 1494.9 L274.2 1495.4 L285.75 1495.4 C286.25 1427.14 286.41 1399.61 286.8 1385.3 L287 1385.3 L287.5 1486.4 C287.65 1492 288.3 1494.3 290.6 1494.9 L294 1495.4 L305.75 1495.4 C306.25 1424.53 306.41 1395.96 306.8 1381.1 L307 1381.1 L307.5 1486.4 C307.65 1492 308.3 1494.3 310.6 1494.9 L314 1495.4 L337.1 1495.4 C337.6 1409.47 337.79 1374.82 338.25 1356.8 L338.55 1356.8 L339.05 1486.4 C339.2 1492 339.85 1494.3 342.15 1494.9 L345.55 1495.4 L357.1 1495.4 C357.6 1406.31 357.79 1370.38 358.25 1351.7 L358.55 1351.7 L359.05 1486.4 C359.2 1492 359.85 1494.3 362.15 1494.9 L365.55 1495.4 L377.1 1495.4 C377.6 1406.68 377.79 1370.9 378.25 1352.3 L378.55 1352.3 L379.05 1486.4 C379.2 1492 379.85 1494.3 382.15 1494.9 L385.55 1495.4 L397.5 1495.4 C398 1406.06 398.19 1370.03 398.65 1351.3 L398.95 1351.3 L399.45 1486.4 C399.6 1492 400.25 1494.3 402.55 1494.9 L405.95 1495.4 L434.1 1495.4 C434.6 1390.99 434.86 1348.89 435.45 1327 L435.95 1327 L436.45 1486.4 C436.6 1492 437.25 1494.3 439.55 1494.9 L442.95 1495.4 L454.7 1495.4 C455.2 1389.69 455.46 1347.07 456.05 1324.9 L456.55 1324.9 L457.05 1486.4 C457.2 1492 457.85 1494.3 460.15 1494.9 L463.55 1495.4 L474.9 1495.4 C475.4 1389.94 475.66 1347.41 476.25 1325.3 L476.75 1325.3 L477.25 1486.4 C477.4 1492 478.05 1494.3 480.35 1494.9 L483.75 1495.4 L495.5 1495.4 C496 1389.69 496.26 1347.07 496.85 1324.9 L497.35 1324.9 L497.85 1486.4 C498 1492 498.65 1494.3 500.95 1494.9 L504.35 1495.4 L532.5 1495.4 C533 1379.21 533.52 1332.36 534.75 1308 L535.65 1308 L536.15 1486.4 C536.3 1492 536.95 1494.3 539.25 1494.9 L542.65 1495.4 L553.7 1495.4 C554.2 1378.59 554.72 1331.49 555.95 1307 L556.85 1307 L557.35 1486.4 C557.5 1492 558.15 1494.3 560.45 1494.9 L563.85 1495.4 L574.3 1495.4 C574.8 1378.59 575.32 1331.49 576.55 1307 L577.45 1307 L577.95 1486.4 C578.1 1492 578.75 1494.3 581.05 1494.9 L584.45 1495.4 L595.8 1495.4 C596.3 1378.59 596.82 1331.49 598.05 1307 L598.95 1307 L599.45 1486.4 C599.6 1492 600.25 1494.3 602.55 1494.9 L605.95 1495.4 L637.1 1495.4 C637.6 1372.21 638.27 1322.53 639.85 1296.7 L641.55 1296.7 L642.05 1486.4 C642.2 1492 642.85 1494.3 645.15 1494.9 L648.55 1495.4 L659.4 1495.4 C659.9 1371.96 660.57 1322.18 662.15 1296.3 L663.85 1296.3 L664.35 1486.4 C664.5 1492 665.15 1494.3 667.45 1494.9 L670.85 1495.4 L681.6 1495.4 C682.1 1372.21 682.77 1322.53 684.35 1296.7 L686.05 1296.7 L686.55 1486.4 C686.7 1492 687.35 1494.3 689.65 1494.9 L693.05 1495.4 L704.1 1495.4 C704.6 1372.83 705.27 1323.4 706.85 1297.7 L708.55 1297.7 L709.05 1486.4 C709.2 1492 709.85 1494.3 712.15 1494.9 L715.55 1495.4 L733.6 1494.2" fill="none" stroke="#ff0000" stroke-width="2.5" stroke-linejoin="round"/>
<text x="138.94" y="1537.6" font-size="26.3" fill="#262626" stroke="#262626" textLength="14.12" lengthAdjust="spacingAndGlyphs">0</text>
<text x="252.75" y="1537.6" font-size="26.3" fill="#262626" stroke="#262626" textLength="42.35" lengthAdjust="spacingAndGlyphs">400</text>
<text x="380.67" y="1537.6" font-size="26.3" fill="#262626" stroke="#262626" textLength="42.35" lengthAdjust="spacingAndGlyphs">800</text>
<text x="501.53" y="1537.6" font-size="26.3" fill="#262626" stroke="#262626" textLength="56.46" lengthAdjust="spacingAndGlyphs">1200</text>
<text x="629.45" y="1537.6" font-size="26.3" fill="#262626" stroke="#262626" textLength="56.46" lengthAdjust="spacingAndGlyphs">1600</text>
<text x="757.37" y="1537.6" font-size="26.3" fill="#262626" stroke="#262626" textLength="56.46" lengthAdjust="spacingAndGlyphs">2000</text>
<text x="104.17" y="1179.2" font-size="26.3" fill="#262626" stroke="#262626" textLength="35.28" lengthAdjust="spacingAndGlyphs">0.0</text>
<text x="104.43" y="1112.72" font-size="26.3" fill="#262626" stroke="#262626" textLength="35.28" lengthAdjust="spacingAndGlyphs">0.2</text>
<text x="103.92" y="1046.24" font-size="26.3" fill="#262626" stroke="#262626" textLength="35.28" lengthAdjust="spacingAndGlyphs">0.4</text>
<text x="104.3" y="979.76" font-size="26.3" fill="#262626" stroke="#262626" textLength="35.28" lengthAdjust="spacingAndGlyphs">0.6</text>
<text x="104.24" y="913.28" font-size="26.3" fill="#262626" stroke="#262626" textLength="35.28" lengthAdjust="spacingAndGlyphs">0.8</text>
<text x="104.17" y="846.8" font-size="26.3" fill="#262626" stroke="#262626" textLength="35.28" lengthAdjust="spacingAndGlyphs">1.0</text>
<text x="125.37" y="1513.1" font-size="26.3" fill="#262626" stroke="#262626" textLength="14.12" lengthAdjust="spacingAndGlyphs">0</text>
<text x="125.49" y="1446.32" font-size="26.3" fill="#262626" stroke="#262626" textLength="14.12" lengthAdjust="spacingAndGlyphs">3</text>
<text x="125.49" y="1379.54" font-size="26.3" fill="#262626" stroke="#262626" textLength="14.12" lengthAdjust="spacingAndGlyphs">6</text>
<text x="125.56" y="1312.76" font-size="26.3" fill="#262626" stroke="#262626" textLength="14.12" lengthAdjust="spacingAndGlyphs">9</text>
<text x="111.53" y="1245.98" font-size="26.3" fill="#262626" stroke="#262626" textLength="28.23" lengthAdjust="spacingAndGlyphs">12</text>
<text x="350.01" y="1577" font-size="32" fill="#262626" stroke="#262626" textLength="233.82" lengthAdjust="spacingAndGlyphs">Elapsed time (s)</text>
<text transform="translate(94.9 1250.6) rotate(-90)" x="-0.49" y="0" font-size="33.5" fill="#262626" stroke="#262626" textLength="139.22" lengthAdjust="spacingAndGlyphs">J (nA/mm</text>
<text transform="translate(79 1111.2) rotate(-90)" x="-1.18" y="0" font-size="27.4" fill="#262626" stroke="#262626" textLength="13.13" lengthAdjust="spacingAndGlyphs">2</text>
<text transform="translate(94.9 1095.9) rotate(-90)" x="-0.14" y="0" font-size="33.5" fill="#262626" stroke="#262626" textLength="9.21" lengthAdjust="spacingAndGlyphs">)</text>
<text x="8.04" y="869.5" font-size="60" fill="#000" stroke="#000" textLength="73.09" lengthAdjust="spacingAndGlyphs">(c)</text>
<text x="155.51" y="867.6" font-size="32" fill="#000" stroke="#000" textLength="69.41" lengthAdjust="spacingAndGlyphs">CdTe</text>
<text x="155.51" y="1203.6" font-size="32" fill="#000" stroke="#000" textLength="117.78" lengthAdjust="spacingAndGlyphs">CdTe(Cl)</text>
<text x="162.72" y="939" font-size="23.6" fill="#000" stroke="#000" textLength="86" lengthAdjust="spacingAndGlyphs">X (mR) =</text>
<text x="256.59" y="939" font-size="23.6" fill="#000" stroke="#000" textLength="35.74" lengthAdjust="spacingAndGlyphs">146</text>
<text x="357.32" y="939" font-size="23.6" fill="#000" stroke="#000" textLength="36.13" lengthAdjust="spacingAndGlyphs">291</text>
<text x="455.04" y="939" font-size="23.6" fill="#000" stroke="#000" textLength="35.9" lengthAdjust="spacingAndGlyphs">582</text>
<text x="556.89" y="939" font-size="23.6" fill="#000" stroke="#000" textLength="46.18" lengthAdjust="spacingAndGlyphs">1165</text>
<text x="677.29" y="939" font-size="23.6" fill="#000" stroke="#000" textLength="49.39" lengthAdjust="spacingAndGlyphs">2330</text>
<text x="162.62" y="1278" font-size="23.6" fill="#000" stroke="#000" textLength="86" lengthAdjust="spacingAndGlyphs">X (mR) =</text>
<text x="256.85" y="1278" font-size="23.6" fill="#000" stroke="#000" textLength="36.6" lengthAdjust="spacingAndGlyphs">146</text>
<text x="349.12" y="1278" font-size="23.6" fill="#000" stroke="#000" textLength="36.13" lengthAdjust="spacingAndGlyphs">291</text>
<text x="447.11" y="1278" font-size="23.6" fill="#000" stroke="#000" textLength="37.07" lengthAdjust="spacingAndGlyphs">582</text>
<text x="543.85" y="1278" font-size="23.6" fill="#000" stroke="#000" textLength="47.24" lengthAdjust="spacingAndGlyphs">1165</text>
<text x="651.59" y="1278" font-size="23.6" fill="#000" stroke="#000" textLength="49.39" lengthAdjust="spacingAndGlyphs">2330</text>
</g>
<g id="panel-d">
<clipPath id="clipd"><rect x="1000.6" y="814.9" width="628.3" height="708.75"/></clipPath>
<line x1="1000.6" y1="834.9" x2="1628" y2="834.9" stroke="#767676" stroke-width="2"/>
<line x1="1000.6" y1="1503.65" x2="1628" y2="1503.65" stroke="#767676" stroke-width="2"/>
<line x1="1000.6" y1="833.9" x2="1000.6" y2="1504.65" stroke="#2a2a2a" stroke-width="1.5"/>
<line x1="1628" y1="833.9" x2="1628" y2="1504.65" stroke="#2a2a2a" stroke-width="1.5"/>
<line x1="1000.6" y1="1503.65" x2="1000.6" y2="1496.65" stroke="#2a2a2a" stroke-width="1.4"/>
<line x1="1000.6" y1="834.9" x2="1000.6" y2="841.9" stroke="#2a2a2a" stroke-width="1.4"/>
<line x1="1126.08" y1="1503.65" x2="1126.08" y2="1496.65" stroke="#2a2a2a" stroke-width="1.4"/>
<line x1="1126.08" y1="834.9" x2="1126.08" y2="841.9" stroke="#2a2a2a" stroke-width="1.4"/>
<line x1="1251.56" y1="1503.65" x2="1251.56" y2="1496.65" stroke="#2a2a2a" stroke-width="1.4"/>
<line x1="1251.56" y1="834.9" x2="1251.56" y2="841.9" stroke="#2a2a2a" stroke-width="1.4"/>
<line x1="1377.04" y1="1503.65" x2="1377.04" y2="1496.65" stroke="#2a2a2a" stroke-width="1.4"/>
<line x1="1377.04" y1="834.9" x2="1377.04" y2="841.9" stroke="#2a2a2a" stroke-width="1.4"/>
<line x1="1502.52" y1="1503.65" x2="1502.52" y2="1496.65" stroke="#2a2a2a" stroke-width="1.4"/>
<line x1="1502.52" y1="834.9" x2="1502.52" y2="841.9" stroke="#2a2a2a" stroke-width="1.4"/>
<line x1="1628" y1="1503.65" x2="1628" y2="1496.65" stroke="#2a2a2a" stroke-width="1.4"/>
<line x1="1628" y1="834.9" x2="1628" y2="841.9" stroke="#2a2a2a" stroke-width="1.4"/>
<line x1="1000.6" y1="1503.65" x2="1007.6" y2="1503.65" stroke="#2a2a2a" stroke-width="1.4"/>
<line x1="1628" y1="1503.65" x2="1621" y2="1503.65" stroke="#2a2a2a" stroke-width="1.4"/>
<line x1="1000.6" y1="1336.46" x2="1007.6" y2="1336.46" stroke="#2a2a2a" stroke-width="1.4"/>
<line x1="1628" y1="1336.46" x2="1621" y2="1336.46" stroke="#2a2a2a" stroke-width="1.4"/>
<line x1="1000.6" y1="1169.28" x2="1007.6" y2="1169.28" stroke="#2a2a2a" stroke-width="1.4"/>
<line x1="1628" y1="1169.28" x2="1621" y2="1169.28" stroke="#2a2a2a" stroke-width="1.4"/>
<line x1="1000.6" y1="1002.09" x2="1007.6" y2="1002.09" stroke="#2a2a2a" stroke-width="1.4"/>
<line x1="1628" y1="1002.09" x2="1621" y2="1002.09" stroke="#2a2a2a" stroke-width="1.4"/>
<line x1="1000.6" y1="834.9" x2="1007.6" y2="834.9" stroke="#2a2a2a" stroke-width="1.4"/>
<line x1="1628" y1="834.9" x2="1621" y2="834.9" stroke="#2a2a2a" stroke-width="1.4"/>
<text x="980.86" y="1537.65" font-size="26.3" fill="#262626" stroke="#262626" textLength="35.28" lengthAdjust="spacingAndGlyphs">0.0</text>
<text x="1106.34" y="1537.65" font-size="26.3" fill="#262626" stroke="#262626" textLength="35.28" lengthAdjust="spacingAndGlyphs">0.5</text>
<text x="1231.82" y="1537.65" font-size="26.3" fill="#262626" stroke="#262626" textLength="35.28" lengthAdjust="spacingAndGlyphs">1.0</text>
<text x="1357.3" y="1537.65" font-size="26.3" fill="#262626" stroke="#262626" textLength="35.28" lengthAdjust="spacingAndGlyphs">1.5</text>
<text x="1482.78" y="1537.65" font-size="26.3" fill="#262626" stroke="#262626" textLength="35.28" lengthAdjust="spacingAndGlyphs">2.0</text>
<text x="1608.26" y="1537.65" font-size="26.3" fill="#262626" stroke="#262626" textLength="35.28" lengthAdjust="spacingAndGlyphs">2.5</text>
<text x="976.57" y="1513.15" font-size="26.3" fill="#262626" stroke="#262626" textLength="14.12" lengthAdjust="spacingAndGlyphs">0</text>
<text x="962.48" y="1345.96" font-size="26.3" fill="#262626" stroke="#262626" textLength="28.23" lengthAdjust="spacingAndGlyphs">20</text>
<text x="962.48" y="1178.78" font-size="26.3" fill="#262626" stroke="#262626" textLength="28.23" lengthAdjust="spacingAndGlyphs">40</text>
<text x="962.48" y="1011.59" font-size="26.3" fill="#262626" stroke="#262626" textLength="28.23" lengthAdjust="spacingAndGlyphs">60</text>
<text x="962.48" y="844.4" font-size="26.3" fill="#262626" stroke="#262626" textLength="28.23" lengthAdjust="spacingAndGlyphs">80</text>
<g clip-path="url(#clipd)">
<line x1="1000.6" y1="1503.65" x2="1628" y2="1493.62" stroke="#0000ff" stroke-width="5" stroke-dasharray="17.6 18.2"/>
<rect x="1018.99" y="1500.06" width="36.5" height="6" fill="#0000ff"/>
<circle cx="1037.24" cy="1503.06" r="10.5" fill="none" stroke="#0000ff" stroke-width="4.8"/>
<rect x="1055.38" y="1499.48" width="36.5" height="6" fill="#0000ff"/>
<circle cx="1073.63" cy="1502.48" r="10.5" fill="none" stroke="#0000ff" stroke-width="4.8"/>
<rect x="1128.41" y="1498.31" width="36.5" height="6" fill="#0000ff"/>
<circle cx="1146.66" cy="1501.31" r="10.5" fill="none" stroke="#0000ff" stroke-width="4.8"/>
<rect x="1274.72" y="1495.98" width="36.5" height="6" fill="#0000ff"/>
<circle cx="1292.97" cy="1498.98" r="10.5" fill="none" stroke="#0000ff" stroke-width="4.8"/>
<rect x="1567.09" y="1491.3" width="36.5" height="6" fill="#0000ff"/>
<circle cx="1585.34" cy="1494.3" r="10.5" fill="none" stroke="#0000ff" stroke-width="4.8"/>
<line x1="1000.6" y1="1503.65" x2="1628" y2="965.72" stroke="#ff0000" stroke-width="5" stroke-dasharray="17.6 18.2"/>
<rect x="1018.99" y="1487.31" width="36.5" height="5.6" fill="#ff0000"/>
<path d="M1037.24 1476.25 L1049.24 1497.04 L1025.24 1497.04 Z" fill="none" stroke="#ff0000" stroke-width="4.8" stroke-linejoin="miter" stroke-miterlimit="10"/>
<rect x="1055.38" y="1462.83" width="36.5" height="6.4" fill="#ff0000"/>
<path d="M1073.63 1452.18 L1085.63 1472.96 L1061.63 1472.96 Z" fill="none" stroke="#ff0000" stroke-width="4.8" stroke-linejoin="miter" stroke-miterlimit="10"/>
<rect x="1128.41" y="1402.18" width="36.5" height="7" fill="#ff0000"/>
<path d="M1146.66 1391.82 L1158.66 1412.61 L1134.66 1412.61 Z" fill="none" stroke="#ff0000" stroke-width="4.8" stroke-linejoin="miter" stroke-miterlimit="10"/>
<rect x="1274.72" y="1265.99" width="36.5" height="7.2" fill="#ff0000"/>
<path d="M1292.97 1255.73 L1304.97 1276.52 L1280.97 1276.52 Z" fill="none" stroke="#ff0000" stroke-width="4.8" stroke-linejoin="miter" stroke-miterlimit="10"/>
<rect x="1567.09" y="978.18" width="36.5" height="8.4" fill="#ff0000"/>
<path d="M1585.34 969.42 L1597.34 990.21 L1573.34 990.21 Z" fill="none" stroke="#ff0000" stroke-width="4.8" stroke-linejoin="miter" stroke-miterlimit="10"/>
</g>
<text x="1219.01" y="1576.9" font-size="32" fill="#262626" stroke="#262626" textLength="190.66" lengthAdjust="spacingAndGlyphs">Exposure (R)</text>
<text transform="translate(938.9 1270.9) rotate(-90)" x="-1.47" y="0" font-size="33.5" fill="#262626" stroke="#262626" textLength="25.44" lengthAdjust="spacingAndGlyphs">Q</text>
<text transform="translate(954.3 1244.9) rotate(-90)" x="-0.67" y="0" font-size="26" fill="#262626" stroke="#262626" textLength="31.22" lengthAdjust="spacingAndGlyphs">sig</text>
<text transform="translate(938.9 1199.9) rotate(-90)" x="-1.77" y="0" font-size="33.5" fill="#262626" stroke="#262626" textLength="105.1" lengthAdjust="spacingAndGlyphs">(nC/mm</text>
<text transform="translate(923.9 1089.8) rotate(-90)" x="-1.43" y="0" font-size="27.4" fill="#262626" stroke="#262626" textLength="15.93" lengthAdjust="spacingAndGlyphs">2</text>
<text transform="translate(938.9 1074.6) rotate(-90)" x="-0.16" y="0" font-size="33.5" fill="#262626" stroke="#262626" textLength="10.83" lengthAdjust="spacingAndGlyphs">)</text>
<text x="865.67" y="869.3" font-size="60" fill="#000" stroke="#000" textLength="75.94" lengthAdjust="spacingAndGlyphs">(d)</text>
<circle cx="1031.5" cy="862.1" r="11" fill="none" stroke="#0000ff" stroke-width="4.8"/>
<path d="M1031.5 883.14 L1043.5 903.93 L1019.5 903.93 Z" fill="none" stroke="#ff0000" stroke-width="4.8" stroke-linejoin="miter" stroke-miterlimit="10"/>
<text x="1048.21" y="872.4" font-size="26.6" fill="#000" stroke="#000" textLength="60.24" lengthAdjust="spacingAndGlyphs">CdTe</text>
<text x="1048.21" y="905.2" font-size="26.6" fill="#000" stroke="#000" textLength="101.84" lengthAdjust="spacingAndGlyphs">CdTe(Cl)</text>
<text x="1099.59" y="1052.6" font-size="25.5" fill="#ff0000" stroke="#ff0000" textLength="61.62" lengthAdjust="spacingAndGlyphs">slope</text>
<text x="1099.61" y="1097.8" font-size="25.5" fill="#ff0000" stroke="#ff0000" textLength="15.81" lengthAdjust="spacingAndGlyphs">=</text>
<text x="1121.94" y="1097.8" font-size="25.5" fill="#ff0000" stroke="#ff0000" textLength="62.85" lengthAdjust="spacingAndGlyphs">25.74</text>
<text x="1196.64" y="1099" font-size="25.5" fill="#ff0000" stroke="#ff0000" textLength="19.38" lengthAdjust="spacingAndGlyphs">±</text>
<text x="1223.15" y="1097.8" font-size="25.5" fill="#ff0000" stroke="#ff0000" textLength="49.36" lengthAdjust="spacingAndGlyphs">0.66</text>
<text x="1278.84" y="1097.8" font-size="25.5" fill="#ff0000" stroke="#ff0000" textLength="32.64" lengthAdjust="spacingAndGlyphs">nC</text>
<text x="1320.18" y="1097.8" font-size="25.5" fill="#ff0000" stroke="#ff0000" textLength="13.66" lengthAdjust="spacingAndGlyphs">·</text>
<text x="1335.99" y="1097.8" font-size="25.5" fill="#ff0000" stroke="#ff0000" textLength="43.96" lengthAdjust="spacingAndGlyphs">mm</text>
<text x="1380.97" y="1085.8" font-size="21.5" fill="#ff0000" stroke="#ff0000" textLength="17.28" lengthAdjust="spacingAndGlyphs">-2</text>
<text x="1404.68" y="1097.8" font-size="25.5" fill="#ff0000" stroke="#ff0000" textLength="13.66" lengthAdjust="spacingAndGlyphs">·</text>
<text x="1420.95" y="1097.8" font-size="25.5" fill="#ff0000" stroke="#ff0000" textLength="20.31" lengthAdjust="spacingAndGlyphs">R</text>
<text x="1440.15" y="1085.8" font-size="21.5" fill="#ff0000" stroke="#ff0000" textLength="15.72" lengthAdjust="spacingAndGlyphs">-1</text>
<text x="1275.49" y="1403" font-size="25.5" fill="#0000ff" stroke="#0000ff" textLength="61.83" lengthAdjust="spacingAndGlyphs">slope</text>
<text x="1275.88" y="1449.9" font-size="25.5" fill="#0000ff" stroke="#0000ff" textLength="14.97" lengthAdjust="spacingAndGlyphs">=</text>
<text x="1297.95" y="1449.9" font-size="25.5" fill="#0000ff" stroke="#0000ff" textLength="49.51" lengthAdjust="spacingAndGlyphs">0.48</text>
<text x="1357.83" y="1451" font-size="25.5" fill="#0000ff" stroke="#0000ff" textLength="19.6" lengthAdjust="spacingAndGlyphs">±</text>
<text x="1384.71" y="1449.9" font-size="25.5" fill="#0000ff" stroke="#0000ff" textLength="46.25" lengthAdjust="spacingAndGlyphs">0.01</text>
<text x="1440.46" y="1449.9" font-size="25.5" fill="#0000ff" stroke="#0000ff" textLength="32.31" lengthAdjust="spacingAndGlyphs">nC</text>
<text x="1482.06" y="1449.9" font-size="25.5" fill="#0000ff" stroke="#0000ff" textLength="12.3" lengthAdjust="spacingAndGlyphs">·</text>
<text x="1498.01" y="1449.9" font-size="25.5" fill="#0000ff" stroke="#0000ff" textLength="43.41" lengthAdjust="spacingAndGlyphs">mm</text>
<text x="1542.49" y="1437.3" font-size="21.5" fill="#0000ff" stroke="#0000ff" textLength="16.95" lengthAdjust="spacingAndGlyphs">-2</text>
<text x="1566.86" y="1449.9" font-size="25.5" fill="#0000ff" stroke="#0000ff" textLength="12.3" lengthAdjust="spacingAndGlyphs">·</text>
<text x="1583.02" y="1449.9" font-size="25.5" fill="#0000ff" stroke="#0000ff" textLength="19.7" lengthAdjust="spacingAndGlyphs">R</text>
<text x="1602.55" y="1437.3" font-size="21.5" fill="#0000ff" stroke="#0000ff" textLength="15.61" lengthAdjust="spacingAndGlyphs">-1</text>
</g>
</svg>
</body></html>
